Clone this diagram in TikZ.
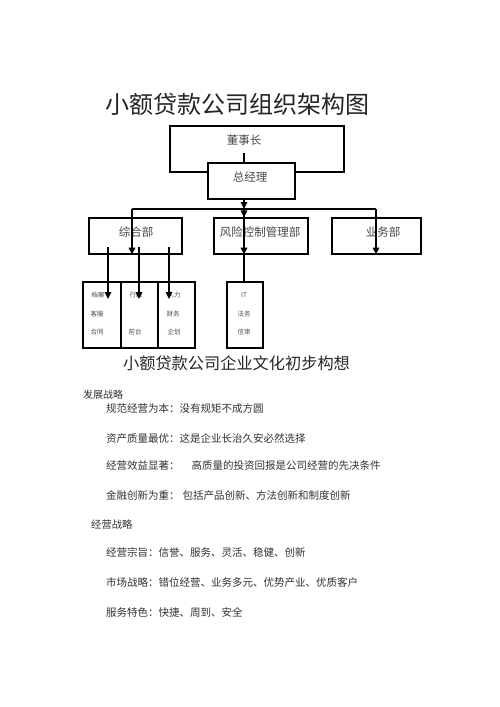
\documentclass[tikz,border=0pt]{standalone}
\usepackage{fontspec}
\setmainfont{Noto Sans CJK SC}
\usetikzlibrary{arrows.meta}
\tikzset{
  box/.style={draw,line width=1.1pt,fill=white,inner sep=0pt},
  lbl/.style={inner sep=0pt,text=black!72,font=\fontsize{11.5}{12}\selectfont},
  small/.style={inner sep=0pt,text=black!70,font=\fontsize{6.5}{7}\selectfont},
  body/.style={inner sep=0pt,anchor=west,text=black!80,font=\fontsize{10.5}{12}\selectfont},
  head/.style={inner sep=0pt,text=black!85},
  arr/.style={line width=1.6pt,-{Triangle[width=6.5pt,length=7pt]}},
  plainline/.style={line width=1.2pt}
}
\begin{document}
\begin{tikzpicture}[x=1pt,y=-1pt]
\useasboundingbox (0,0) rectangle (500,707);
\fill[white] (0,0) rectangle (500,707);

% title
\node[head,font=\fontsize{24}{26}\selectfont] (title) at (237.5,104) {小额贷款公司组织架构图};

% chairman and general manager
\node[box,minimum width=174pt,minimum height=46pt] (chair) at (257,149) {};
\node[lbl] (chairtxt) at (244,140) {董事长};
\coordinate (c1) at (244,153);
\draw[plainline] (c1) -- (c1 |- chair.south);
\node[box,line width=1.7pt,minimum width=87pt,minimum height=36pt] (gm) at (251.5,181) {};
\node[lbl] (gmtxt) at (250,177) {总经理};

% departments
\node[box,minimum width=93pt,minimum height=36pt] (zh) at (135.5,236) {};
\node[lbl] (zhtxt) at (136,232) {综合部};
\node[box,minimum width=94pt,minimum height=36pt] (risk) at (261,236) {};
\node[lbl] (risktxt) at (260,232) {风险控制管理部};
\node[box,minimum width=89pt,minimum height=36pt] (yw) at (376.5,236) {};
\node[lbl] (ywtxt) at (383,232) {业务部};

% sub boxes
\node[box,minimum width=38pt,minimum height=66pt] (cellA) at (102,315) {};
\node[box,minimum width=37pt,minimum height=66pt] (cellB) at (139.5,315) {};
\node[box,minimum width=37pt,minimum height=66pt] (cellC) at (176.5,315) {};
\node[box,minimum width=36pt,minimum height=66pt] (it) at (245,315) {};

\node[small] (a1t) at (98,295) {档案};
\node[small] (a2t) at (97,314) {客服};
\node[small] (a3t) at (97,332) {合同};
\node[small] (b1t) at (136,295) {行政};
\node[small] (b3t) at (135,332) {前台};
\node[small] (c1t) at (174,295) {人力};
\node[small] (c2t) at (173,314) {财务};
\node[small] (c3t) at (174,332) {企划};
\node[small] (d1t) at (244,295) {IT};
\node[small] (d2t) at (244,314) {法务};
\node[small] (d3t) at (244,332) {信审};

% connectors
\coordinate (bar) at (244,209);
\coordinate (barL) at (132,209);
\coordinate (barR) at (376,209);
\draw[plainline] (barL) -- (barR);
\draw[arr] (gm.south -| bar) -- (bar);
\draw[arr] (bar) -- (bar |- risk.north);
\draw[arr] (bar) -- (bar |- risk.south);
\draw[plainline] (bar |- risk.south) -- (bar |- it.north);
\draw[arr] (barL) -- (barL |- zh.south);
\draw[arr] (barR) -- (barR |- yw.south);

\coordinate (s1) at (108,247);
\coordinate (s2) at (139,247);
\coordinate (s3) at (169,247);
\coordinate (e1) at (108,299);
\coordinate (e2) at (139,299);
\coordinate (e3) at (169,299);
\draw[arr] (s1) -- (e1);
\draw[arr] (s2) -- (e2);
\draw[arr] (s3) -- (e3);

% culture section
\node[head,font=\fontsize{16.2}{18}\selectfont] (title2) at (236.5,363) {小额贷款公司企业文化初步构想};

\node[body,font=\fontsize{10}{12}\selectfont] (fz) at (83,395) {发展战略};
\node[body] (l1) at (106,409) {规范经营为本：没有规矩不成方圆};
\node[body] (l2) at (106,438) {资产质量最优：这是企业长治久安必然选择};
\node[body] (l3) at (106,466) {经营效益显著：\hspace{12pt}高质量的投资回报是公司经营的先决条件};
\node[body] (l4) at (106,495) {金融创新为重：\hspace{3pt}包括产品创新、方法创新和制度创新};

\node[body,font=\fontsize{10.3}{12}\selectfont] (jy) at (91,525) {经营战略};
\node[body] (m1) at (106,552) {经营宗旨：信誉、服务、灵活、稳健、创新};
\node[body] (m2) at (106,582) {市场战略：错位经营、业务多元、优势产业、优质客户};
\node[body] (m3) at (106,612) {服务特色：快捷、周到、安全};
\end{tikzpicture}
\end{document}
